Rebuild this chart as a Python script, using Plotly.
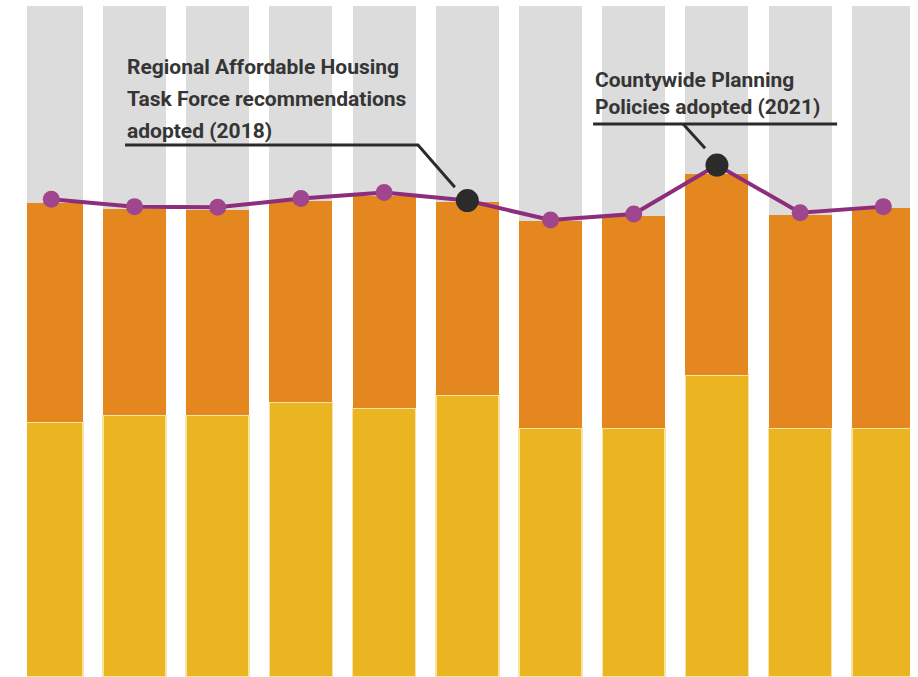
import plotly.graph_objects as go

years = [2013, 2014, 2015, 2016, 2017, 2018, 2019, 2020, 2021, 2022, 2023]
yellow = [38.0, 39.0, 39.0, 41.0, 40.1, 42.0, 37.1, 37.1, 45.0, 37.1, 37.1]
total = [70.6, 69.7, 69.6, 70.9, 71.7, 70.8, 67.9, 68.7, 74.9, 68.9, 69.9]
line_vals = [71.2, 70.1, 70.0, 71.3, 72.2, 71.0, 68.1, 69.0, 76.3, 69.2, 70.1]
highlight_years = [2018, 2021]

orange = [t - y for t, y in zip(total, yellow)]
gray = [100 - t for t in total]
x_idx = list(range(len(years)))
hl_idx = [years.index(y) for y in highlight_years]

fig = go.Figure()
fig.add_bar(x=x_idx, y=yellow, marker=dict(color="#ebb521", line=dict(color="#f7e4a2", width=1.5)))
fig.add_bar(x=x_idx, y=orange, marker=dict(color="#e3871e", line=dict(width=0)))
fig.add_bar(x=x_idx, y=gray, marker=dict(color="#dcdcdc", line=dict(width=0)))
fig.add_scatter(x=x_idx, y=line_vals, mode="lines+markers",
                line=dict(color="#8e2d7c", width=4),
                marker=dict(size=17, color="#a0468e", line=dict(width=0)))
fig.add_scatter(x=hl_idx, y=[line_vals[i] for i in hl_idx], mode="markers",
                marker=dict(size=23, color="#2b2b2b"))

font = dict(family="Roboto, sans-serif", size=21, color="#353535", weight="bold")
ann1 = ["Regional Affordable Housing", "Task Force recommendations", "adopted (2018)"]
ann1_y = [90.9, 86.2, 81.4]
ann2 = ["Countywide Planning", "Policies adopted (2021)"]
ann2_y = [89.0, 85.0]
annotations = []
for t, y in zip(ann1, ann1_y):
    annotations.append(dict(x=0.886, y=y, xref="x", yref="y", text=t, showarrow=False,
                            xanchor="left", yanchor="middle", font=font))
for t, y in zip(ann2, ann2_y):
    annotations.append(dict(x=6.511, y=y, xref="x", yref="y", text=t, showarrow=False,
                            xanchor="left", yanchor="middle", font=font))

shapes = [
    dict(type="path", xref="x", yref="y", path="M 0.886 79.3 L 4.407 79.3 L 4.85 73.0",
         line=dict(color="#2b2b2b", width=3)),
    dict(type="line", xref="x", yref="y", x0=6.511, y0=82.4, x1=9.444, y1=82.4,
         line=dict(color="#2b2b2b", width=3)),
    dict(type="line", xref="x", yref="y", x0=7.593, y0=82.4, x1=7.857, y1=78.8,
         line=dict(color="#2b2b2b", width=3)),
]

fig.update_layout(
    width=918, height=677,
    margin=dict(l=27, r=8, t=6, b=0),
    barmode="stack", bargap=0.243,
    showlegend=False,
    plot_bgcolor="white", paper_bgcolor="white",
    xaxis=dict(range=[-0.292, 10.32], visible=False, fixedrange=True),
    yaxis=dict(range=[0, 100], visible=False, fixedrange=True),
    annotations=annotations, shapes=shapes,
)
fig.write_html("out.html", config={"displayModeBar": False},
               post_script="document.body.style.margin='0';document.body.style.overflow='hidden';")
